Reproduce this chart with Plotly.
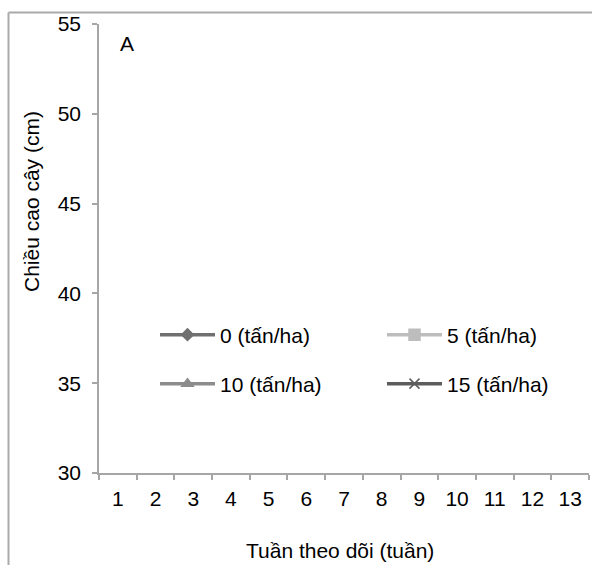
import plotly.graph_objects as go

# Data (no series values are visible in the reference chart)
weeks = [str(i) for i in range(1, 14)]
series_names = ["0 (tấn/ha)", "5 (tấn/ha)", "10 (tấn/ha)", "15 (tấn/ha)"]
height_0 = [None] * 13
height_5 = [None] * 13
height_10 = [None] * 13
height_15 = [None] * 13
y_ticks = [30, 35, 40, 45, 50, 55]

series_values = [height_0, height_5, height_10, height_15]
colors = ["#707070", "#bdbdbd", "#8c8c8c", "#5c5c5c"]
symbols = ["diamond", "square", "triangle-up", "x-thin"]
msizes = [9, 11, 10, 10]
legends = ["legend", "legend2", "legend3", "legend4"]

FONT = "Liberation Sans, Arial, sans-serif"
FS = 21

fig = go.Figure()
for name, vals, c, s, ms, lg in zip(series_names, series_values, colors, symbols, msizes, legends):
    fig.add_trace(go.Scatter(
        x=weeks, y=vals, name=name, mode="lines+markers",
        line=dict(color=c, width=3.5),
        marker=dict(symbol=s, size=ms, color=c, line=dict(color=c, width=1.5)),
        legend=lg, showlegend=True,
    ))

W, H = 592, 565
L, R, T, B = 99, 3, 24, 92
pw = W - L - R
ph = H - T - B

def px(x):
    return (x - L) / pw

def py(y):
    return (H - B - y) / ph

leg_common = dict(orientation="h", xanchor="left", yanchor="middle", itemwidth=55,
                  bgcolor="rgba(0,0,0,0)",
                  font=dict(family=FONT, size=FS, color="#000000"), itemclick=False)

fig.update_layout(
    width=W, height=H,
    margin=dict(l=L, r=R, t=T, b=B),
    paper_bgcolor="white", plot_bgcolor="white",
    font=dict(family=FONT, size=FS, color="#000000"),
    showlegend=True,
    legend=dict(x=px(155), y=py(335), **leg_common),
    legend2=dict(x=px(382), y=py(335), **leg_common),
    legend3=dict(x=px(155), y=py(384), **leg_common),
    legend4=dict(x=px(382), y=py(384), **leg_common),
    xaxis=dict(
        type="category", categoryorder="array", categoryarray=weeks,
        range=[-0.5, 12.5], tickson="boundaries", ticks="outside", ticklen=5,
        tickcolor="#a6a6a6", tickwidth=1.5, ticklabelstandoff=6,
        showline=True, linecolor="#a6a6a6", linewidth=1.5,
        showgrid=False, zeroline=False,
        tickfont=dict(family=FONT, size=FS, color="#000000"),
    ),
    yaxis=dict(
        range=[30, 55], tickvals=y_ticks, ticks="outside", ticklen=5,
        tickcolor="#a6a6a6", tickwidth=1.5, ticklabelstandoff=7,
        showline=True, linecolor="#a6a6a6", linewidth=1.5,
        showgrid=False, zeroline=False,
        tickfont=dict(family=FONT, size=FS, color="#000000"),
    ),
    annotations=[
        dict(text="Chiều cao cây (cm)", textangle=-90, xref="paper", yref="paper",
             x=px(32), y=py(202), showarrow=False, xanchor="center", yanchor="middle",
             font=dict(family=FONT, size=FS, color="#000000")),
        dict(text="Tuần theo dõi (tuần)", xref="paper", yref="paper",
             x=px(340), y=py(550), showarrow=False, xanchor="center", yanchor="middle",
             font=dict(family=FONT, size=FS, color="#000000")),
        dict(text="A", xref="paper", yref="paper",
             x=px(127), y=py(44), showarrow=False, xanchor="center", yanchor="middle",
             font=dict(family=FONT, size=FS, color="#000000")),
    ],
    shapes=[
        dict(type="line", xref="paper", yref="paper", x0=px(8.5), x1=px(600),
             y0=py(12.5), y1=py(12.5), line=dict(color="#aaaaaa", width=2)),
        dict(type="line", xref="paper", yref="paper", x0=px(8.5), x1=px(8.5),
             y0=py(12.5), y1=py(600), line=dict(color="#aaaaaa", width=2)),
    ],
)

fig.write_html("out.html")
